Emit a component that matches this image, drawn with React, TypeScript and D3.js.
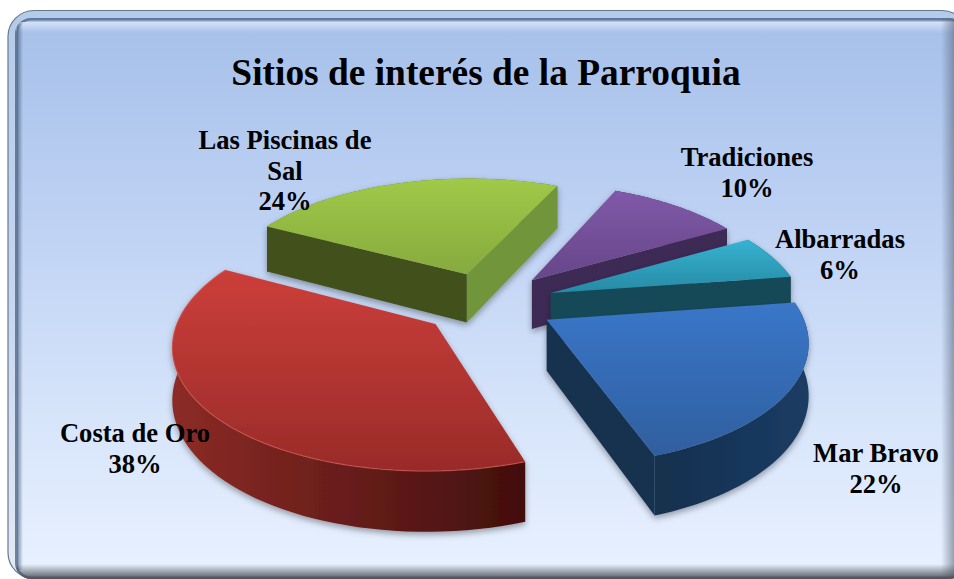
import React from "react";
import * as d3 from "d3";

const categories = ["Costa de Oro", "Las Piscinas de Sal", "Tradiciones", "Albarradas", "Mar Bravo"];
const shares = [38, 24, 10, 6, 22];
const title = "Sitios de interés de la Parroquia";

const topColors = [["#cc3f3a", "#992b29"], ["#a0c948", "#86aa3e"], ["#8059a8", "#664689"], ["#35b3d1", "#278aa5"], ["#3a76c9", "#2f5f9e"]];
const wallColors = [["#8c2b26", "#420f0e"], ["#5b7327", "#5b7327"], ["#3d2a55", "#3d2a55"], ["#174a58", "#174a58"], ["#14304e", "#1b3c63"]];
const edgeColors = [["#4a1210", "#4a1210"], ["#42511c", "#70953a"], ["#3d2a55", "#3d2a55"], ["#174a58", "#174a58"], ["#16304f", "#16304f"]];

const labelLines = [["Costa de Oro", "38%"], ["Las Piscinas de", "Sal", "24%"], ["Tradiciones", "10%"], ["Albarradas", "6%"], ["Mar Bravo", "22%"]];
const labelAnchors = [[135, 442], [285, 149], [747, 166], [840, 248], [876, 462]];

const CX = 488, CY = 303, SX = 252, SY = 118, G = 0.15, EXPLODE = 0.267, DEPTH = 50;
const FIRST_ANGLE = (161 * Math.PI) / 180;

const project = (x: number, y: number, z = 0): [number, number] => {
  const p = 1 / (1 - G * y);
  return [CX + SX * x * p, CY + SY * y * p + DEPTH * z * p];
};

const line = d3.line();

const arcs = d3.pie<number>().sort(null).startAngle(FIRST_ANGLE).endAngle(FIRST_ANGLE + 2 * Math.PI)(shares);

const slices = arcs.map((a, i) => {
  const t0 = a.startAngle - Math.PI / 2;
  const t1 = a.endAngle - Math.PI / 2;
  const tm = (t0 + t1) / 2;
  const ox = EXPLODE * Math.cos(tm);
  const oy = EXPLODE * Math.sin(tm);
  const ts = d3.range(0, 61).map((k) => t0 + ((t1 - t0) * k) / 60);
  const rim = (z: number) => ts.map((t) => project(ox + Math.cos(t), oy + Math.sin(t), z));
  const apex = project(ox, oy);
  const apexB = project(ox, oy, 1);
  const top = rim(0);
  const bottom = rim(1);
  const mid = top[30];
  const faces = (o: [number, number]) => {
    const lineV = apex[1] + ((o[1] - apex[1]) / (o[0] - apex[0])) * (mid[0] - apex[0]);
    return mid[1] < lineV;
  };
  const first = top[0], last = top[60];
  return {
    i,
    topPath: line([apex, ...top])! + "Z",
    wallPath: line([...top, ...[...bottom].reverse()])! + "Z",
    rimPath: line(top)!,
    startWall: faces(first) ? line([apex, first, bottom[0], apexB])! + "Z" : null,
    endWall: faces(last) ? line([apex, last, bottom[60], apexB])! + "Z" : null,
  };
});

const paintOrder = [1, 2, 3, 4, 0];

export default function App() {
  return (
    <svg width={954} height={579} style={{ position: "absolute", left: 0, top: 0 }} fontFamily="'Liberation Serif', serif">
      <defs>
        <linearGradient id="bg" x1="0" y1="0" x2="0" y2="1">
          <stop offset="0" stopColor="#a6c0e9" />
          <stop offset="0.35" stopColor="#bdd1f3" />
          <stop offset="0.7" stopColor="#d6e4fa" />
          <stop offset="1" stopColor="#e9f1ff" />
        </linearGradient>
        <linearGradient id="frame" x1="0" y1="0" x2="0" y2="1">
          <stop offset="0" stopColor="#b4cbe9" />
          <stop offset="0.5" stopColor="#c6d6ef" />
          <stop offset="1" stopColor="#e4eaf5" />
        </linearGradient>
        <linearGradient id="sheen" x1="0" y1="0" x2="0" y2="1">
          <stop offset="0" stopColor="#dfeafa" stopOpacity="0.8" />
          <stop offset="1" stopColor="#dfeafa" stopOpacity="0" />
        </linearGradient>
        <linearGradient id="shadeBottom" x1="0" y1="0" x2="0" y2="1">
          <stop offset="0" stopColor="#4c5158" stopOpacity="0" />
          <stop offset="1" stopColor="#4c5158" stopOpacity="0.95" />
        </linearGradient>
        <linearGradient id="shadeRight" x1="0" y1="0" x2="1" y2="0">
          <stop offset="0" stopColor="#5d6a80" stopOpacity="0" />
          <stop offset="1" stopColor="#5d6a80" stopOpacity="0.6" />
        </linearGradient>
        <linearGradient id="shadeLeft" x1="0" y1="0" x2="1" y2="0">
          <stop offset="0" stopColor="#465a78" stopOpacity="0.7" />
          <stop offset="1" stopColor="#465a78" stopOpacity="0" />
        </linearGradient>
        <clipPath id="panel">
          <rect x={15} y={18} width={950} height={561} rx={16} />
        </clipPath>
        <filter id="soft" x="-10%" y="-10%" width="120%" height="120%">
          <feDropShadow dx="0" dy="3" stdDeviation="3" floodColor="#000" floodOpacity="0.35" />
        </filter>
        {slices.map((s) => (
          <React.Fragment key={s.i}>
            <linearGradient id={`top${s.i}`} x1="0" y1="0" x2="0" y2="1">
              <stop offset="0" stopColor={topColors[s.i][0]} />
              <stop offset="1" stopColor={topColors[s.i][1]} />
            </linearGradient>
            <linearGradient id={`wall${s.i}`} x1="0" y1="0" x2="1" y2="0">
              <stop offset="0" stopColor={wallColors[s.i][0]} />
              <stop offset="1" stopColor={wallColors[s.i][1]} />
            </linearGradient>
          </React.Fragment>
        ))}
      </defs>

      <rect x={8} y={10.5} width={960} height={568} rx={26} fill="url(#frame)" stroke="#64788f" strokeWidth={1.2} />
      <g clipPath="url(#panel)">
        <rect x={15} y={18} width={950} height={561} fill="url(#bg)" />
        <rect x={15} y={18} width={950} height={561} rx={16} fill="none" stroke="#4f6688" strokeWidth={5} strokeOpacity={0.8} />
        <rect x={16} y={22} width={940} height={11} fill="url(#sheen)" />
        <rect x={17} y={18} width={6} height={552} fill="url(#shadeLeft)" />
        <rect x={941} y={18} width={13} height={562} fill="url(#shadeRight)" />
        <rect x={15} y={564} width={950} height={15} fill="url(#shadeBottom)" />
      </g>

      <text x={486} y={85} textAnchor="middle" fontWeight="bold" fontSize={37.4}>{title}</text>

      {paintOrder.map((idx) => {
        const s = slices[idx];
        return (
          <g key={categories[idx]} filter="url(#soft)">
            <path d={s.wallPath} fill={`url(#wall${idx})`} />
            {s.startWall && <path d={s.startWall} fill={edgeColors[idx][0]} />}
            {s.endWall && <path d={s.endWall} fill={edgeColors[idx][1]} />}
            <path d={s.topPath} fill={`url(#top${idx})`} />
            {idx === 0 && <path d={s.rimPath} fill="none" stroke="#d9615a" strokeOpacity={0.6} strokeWidth={1.2} />}
          </g>
        );
      })}

      {labelLines.map((ls, i) => (
        <text key={i} textAnchor="middle" fontWeight="bold" fontSize={26.6} fill="#000">
          {ls.map((t, j) => (
            <tspan key={j} x={labelAnchors[i][0]} y={labelAnchors[i][1] + j * 30.5}>{t}</tspan>
          ))}
        </text>
      ))}
    </svg>
  );
}
